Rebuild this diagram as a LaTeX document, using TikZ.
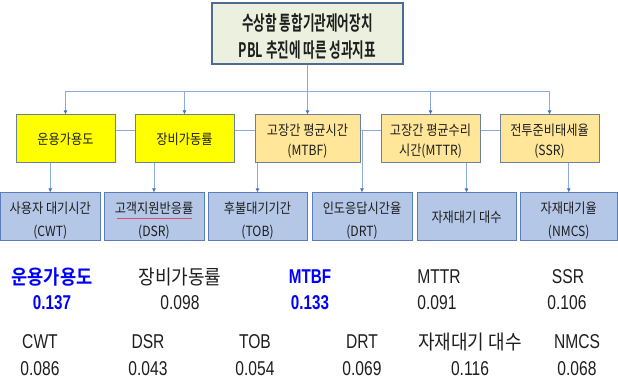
\documentclass[tikz,border=0pt]{standalone}
\usepackage{fontspec}
\usetikzlibrary{arrows.meta}
\newfontfamily\krA{Noto Sans CJK KR}[FakeStretch=0.87]
\newfontfamily\krT{Noto Sans CJK KR Bold}[FakeStretch=0.63]
\newfontfamily\krB{Noto Sans CJK KR}[FakeStretch=0.9]
\newfontfamily\krBb{Noto Sans CJK KR Bold}[FakeStretch=0.88]
\newfontfamily\latB{Liberation Sans}[FakeStretch=0.78]
\newfontfamily\latBb{Liberation Sans Bold}[FakeStretch=0.76]
\newcommand\myup[1]{\rule{0pt}{#1}}
\definecolor{topfill}{HTML}{EBF1DE}
\definecolor{topline}{HTML}{4F6A94}
\definecolor{yel}{HTML}{FFFF00}
\definecolor{gold}{HTML}{FFE699}
\definecolor{boxline}{HTML}{6E7F99}
\definecolor{bluefill}{HTML}{B4C7E7}
\definecolor{blueline}{HTML}{5A7DB8}
\definecolor{connc}{HTML}{8EA9DB}
\definecolor{arrowc}{HTML}{4472C4}
\definecolor{txt}{HTML}{1E1E1E}
\definecolor{hblue}{HTML}{0000FF}
\definecolor{squig}{HTML}{E04A6A}
\begin{document}
\begin{tikzpicture}[x=1pt,y=-1pt,
  topbox/.style={draw=topline, fill=topfill, line width=1.3pt, minimum width=191pt, minimum height=61pt, inner sep=0pt, align=center, text=txt, font=\krT\fontsize{20}{27}\selectfont},
  kbox/.style={draw=boxline, line width=1pt, minimum width=99pt, minimum height=48pt, inner sep=0pt, align=center, text=txt, font=\krA\fontsize{14}{20}\selectfont},
  ybox/.style={kbox, fill=yel},
  gbox/.style={kbox, fill=gold},
  bbox/.style={draw=blueline, fill=bluefill, line width=1pt, minimum height=48pt, inner sep=0pt, align=center, text=txt, font=\krA\fontsize{14}{23}\selectfont},
  conn/.style={draw=connc, line width=0.9pt},
  arr/.style={conn, -{Latex[length=4pt,width=4pt,color=arrowc]}},
  kl/.style={inner sep=0pt, text=txt, font=\krB\fontsize{20}{20}\selectfont},
  ll/.style={inner sep=0pt, text=txt, font=\latB\fontsize{20}{20}\selectfont},
  klh/.style={inner sep=0pt, text=hblue, font=\krBb\fontsize{20}{20}\selectfont},
  llh/.style={inner sep=0pt, text=hblue, font=\latBb\fontsize{20}{20}\selectfont}
]
\useasboundingbox (0,0) rectangle (618,379);

% top
\node[topbox] (T) at (307.5,33.5) {\myup{22pt}수상함 통합기관제어장치\\PBL 추진에 따른 성과지표};

% row 1
\node[ybox] (a1) at (65.5,139) {운용가용도};
\node[ybox] (a2) at (184.5,139) {장비가동률};
\node[gbox, minimum width=105pt] (a3) at (307.5,139) {\myup{16pt}고장간 평균시간\\(MTBF)};
\node[gbox] (a4) at (430.5,139) {\myup{16pt}고장간 평균수리\\시간(MTTR)};
\node[gbox] (a5) at (549.5,139) {\myup{16pt}전투준비태세율\\(SSR)};

% row 2
\node[bbox, minimum width=99.5pt] (b1) at (50.25,217) {\myup{18.5pt}사용자 대기시간\\(CWT)};
\node[bbox, minimum width=100pt] (b2) at (154,217) {\myup{18.5pt}고객지원반응률\\(DSR)};
\node[bbox, minimum width=99pt] (b3) at (257.5,217) {\myup{18.5pt}후불대기기간\\(TOB)};
\node[bbox, minimum width=100pt] (b4) at (362,217) {\myup{18.5pt}인도응답시간율\\(DRT)};
\node[bbox, minimum width=99pt] (b5) at (466.5,217) {자재대기 대수};
\node[bbox, minimum width=97.5pt] (b6) at (568.75,217) {\myup{18.5pt}자재대기율\\(NMCS)};

% spell-check underline
\draw[squig, line width=0.6pt] (117,218) -- (192,218);

% bus lines
\coordinate (bus) at (0,91);
\coordinate (mid) at (0,130);
\draw[conn] (T.south) -- (T.south |- bus);
\draw[conn] (a1.north |- bus) -- (a5.north |- bus);
\foreach \n in {a1,a2,a3,a4,a5}
  \draw[arr] (\n.north |- bus) -- (\n.north);
\draw[conn] (a1.east |- mid) -- (a2.west |- mid);
\draw[conn] (a2.east |- mid) -- (a3.west |- mid);
\draw[conn] (a3.east |- mid) -- (a4.west |- mid);
\draw[conn] (a4.east |- mid) -- (a5.west |- mid);

% down arrows
\draw[arr] (b1.north |- a1.south) -- (b1.north);
\draw[arr] (b2.north |- a2.south) -- (b2.north);
\draw[arr] (b3.north |- a3.south) -- (b3.north);
\draw[arr] (b4.north |- mid) -- (b4.north);
\draw[arr] (b5.north |- a4.south) -- (b5.north);
\draw[arr] (b6.north |- a5.south) -- (b6.north);

% weights row A
\node[klh] (wa1) at (52,277) {운용가용도};
\node[llh] (va1) at (52,303) {0.137};
\node[kl] (wa2) at (180,277) {장비가동률};
\node[ll] (va2) at (180,303) {0.098};
\node[llh] (wa3) at (310,277) {MTBF};
\node[llh] (va3) at (310,303) {0.133};
\node[ll] (wa4) at (439,277) {MTTR};
\node[ll] (va4) at (437,303) {0.091};
\node[ll] (wa5) at (568,277) {SSR};
\node[ll] (va5) at (567,303) {0.106};

% weights row B
\node[ll] (wb1) at (40,342) {CWT};
\node[ll] (vb1) at (40,369) {0.086};
\node[ll] (wb2) at (148,342) {DSR};
\node[ll] (vb2) at (148,369) {0.043};
\node[ll] (wb3) at (255,342) {TOB};
\node[ll] (vb3) at (255,369) {0.054};
\node[ll] (wb4) at (362,342) {DRT};
\node[ll] (vb4) at (362,369) {0.069};
\node[kl] (wb5) at (470,342) {자재대기 대수};
\node[ll] (vb5) at (470,369) {0.116};
\node[ll] (wb6) at (577,342) {NMCS};
\node[ll] (vb6) at (577,369) {0.068};
\end{tikzpicture}
\end{document}
